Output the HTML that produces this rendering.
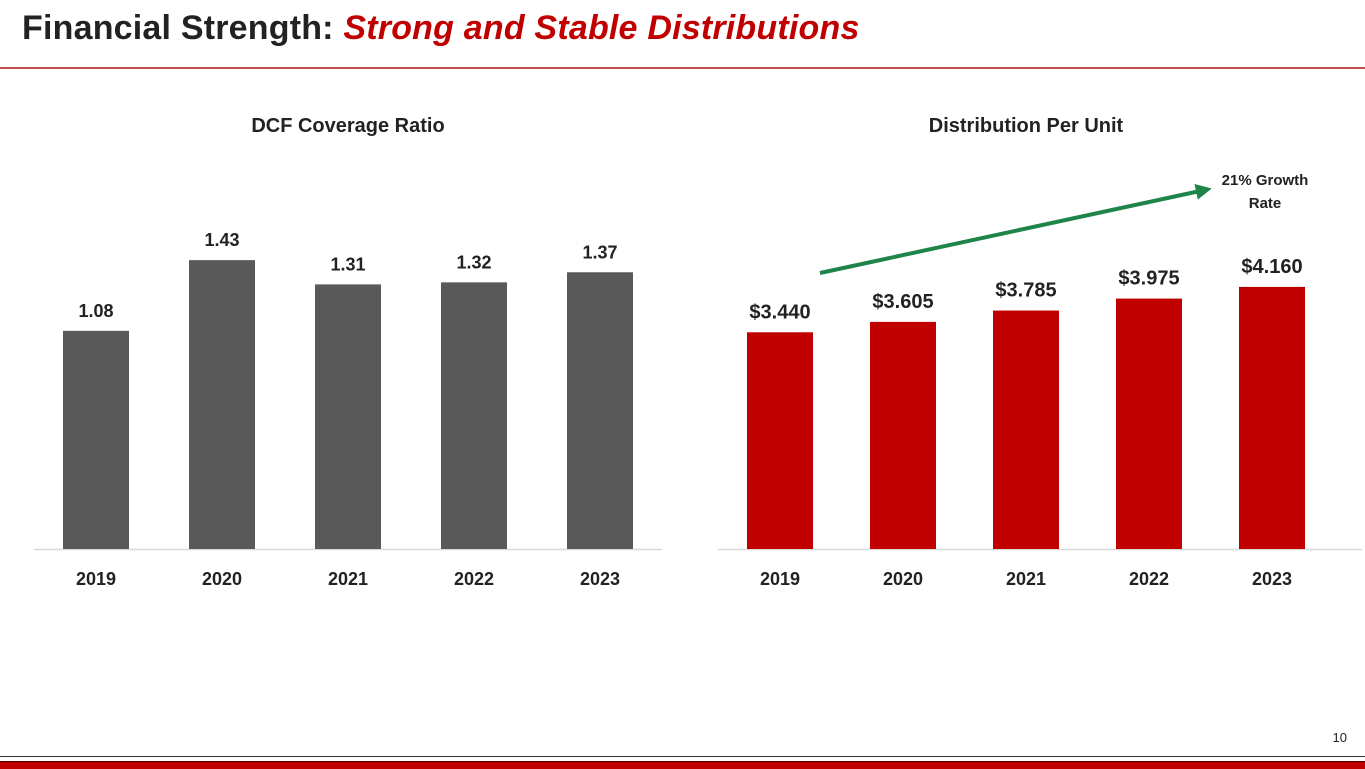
<!DOCTYPE html>
<html><head><meta charset="utf-8"><style>
body{margin:0;width:1365px;height:768px;overflow:hidden;background:#fff;font-family:"Liberation Sans",sans-serif;position:relative}
.t{position:absolute;left:22px;top:9px;font-size:34px;font-weight:bold;color:#222;letter-spacing:0.2px}
.t i{color:#c00000}
</style></head><body>
<div class="t">Financial Strength: <i>Strong and Stable Distributions</i></div>
<div style="position:absolute;left:0;top:67px;width:1365px;height:2px;background:#c0504d"></div>
<div style="position:absolute;right:18px;top:730px;font-size:13px;color:#222">10</div>
<div style="position:absolute;left:0;top:756px;width:1365px;height:1px;background:#333"></div>
<div style="position:absolute;left:0;top:761px;width:1365px;height:7px;background:#c00000;border-top:1px solid #400"></div>
<svg id="s" width="1365" height="768" style="position:absolute;left:0;top:0" font-family="Liberation Sans, sans-serif" font-weight="bold">
<text x="348" y="132" text-anchor="middle" font-size="20" fill="#222">DCF Coverage Ratio</text>
<text x="1026" y="132" text-anchor="middle" font-size="20" fill="#222">Distribution Per Unit</text>
<line x1="34" y1="549.5" x2="662" y2="549.5" stroke="#d9d9d9" stroke-width="1.5"/>
<line x1="718" y1="549.5" x2="1362" y2="549.5" stroke="#d9d9d9" stroke-width="1.5"/>
<defs><marker id="ah" markerWidth="4" markerHeight="4" refX="1" refY="2" orient="auto"><path d="M0,0L4,2L0,4z" fill="#1e8449"/></marker></defs>
<line x1="820" y1="273" x2="1200" y2="191" stroke="#1e8449" stroke-width="4" marker-end="url(#ah)"/>
<text x="1265" y="185" text-anchor="middle" font-size="15" fill="#222">21% Growth</text>
<text x="1265" y="208" text-anchor="middle" font-size="15" fill="#222">Rate</text>
</svg>
<script>
const years=["2019","2020","2021","2022","2023"];
const dcfValues=[1.08,1.43,1.31,1.32,1.37];
const dcfLabels=["1.08","1.43","1.31","1.32","1.37"];
const dpuValues=[3.44,3.605,3.785,3.975,4.16];
const dpuLabels=["$3.440","$3.605","$3.785","$3.975","$4.160"];
const s=document.getElementById('s');
const NS='http://www.w3.org/2000/svg';
function mk(t,a){const e=document.createElementNS(NS,t);for(const k in a)e.setAttribute(k,a[k]);s.appendChild(e);return e;}
function draw(prefix,vals,labels,x0,step,scale,color,fs){
  const base=549;
  vals.forEach((v,i)=>{
    const cx=x0+i*step, y=base-v*scale;
    const r=mk('rect',{x:cx-33,y:y,width:66,height:base-y,fill:color});
    
    
    const t=mk('text',{x:cx,y:y-14,'text-anchor':'middle','font-size':fs,fill:'#222'});
    t.textContent=labels[i];
    
    
    const yl=mk('text',{x:cx,y:585,'text-anchor':'middle','font-size':18,fill:'#222'});
    yl.textContent=years[i];
    
    
  });
}
draw('dcf',dcfValues,dcfLabels,96,126,202,'#595959',18);
draw('dpu',dpuValues,dpuLabels,780,123,63,'#c00000',20);
</script>
</body></html>
